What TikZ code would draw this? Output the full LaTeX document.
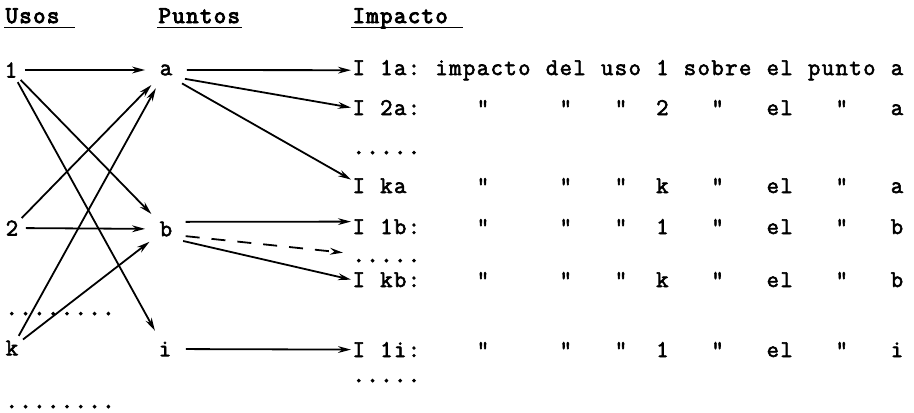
\documentclass[tikz,border=0pt]{standalone}
\usepackage{fontspec}
\newfontfamily\bodyfont{Latin Modern Mono}[BoldFont={Latin Modern Mono},BoldFeatures={FakeBold=2.5}]
\newfontfamily\headfont{Latin Modern Mono}[BoldFont={Latin Modern Mono},BoldFeatures={FakeBold=4}]
\usetikzlibrary{arrows.meta}

\newlength\pitch
\setlength\pitch{6.9pt}
\newcommand{\ch}[1]{\makebox[\pitch]{#1}}
\newcommand{\sk}[1]{\hspace*{#1\pitch}}
\def\mono#1{\monoloop#1\relax}
\def\monoloop#1{\ifx#1\relax\else\ch{#1}\expandafter\monoloop\fi}
\newcommand{\dittorow}[3]{\mono{#1}\sk{4}\ch{"}\sk{5}\ch{"}\sk{3}\ch{"}\sk{2}\ch{#2}\sk{3}\ch{"}\sk{3}\mono{el}\sk{3}\ch{"}\sk{3}\ch{#3}}

\begin{document}
\begin{tikzpicture}[x=0.5pt,y=-0.5pt,>={Stealth[length=6.5pt,width=3.4pt]},line width=0.9pt,
    font=\fontsize{12}{14}\bodyfont\bfseries,
    uso/.style={circle,inner sep=0pt,minimum size=13pt},
    punto/.style={circle,inner sep=0pt,minimum size=20pt},
    imp/.style={anchor=base west,inner sep=0pt},
    puntos/.style={imp,font=\fontsize{12}{14}\headfont\bfseries},
    head/.style={anchor=base west,inner sep=0pt,font=\fontsize{12}{14}\headfont\bfseries},
    raya/.style={dash pattern=on 7pt off 6pt}]
  \useasboundingbox (0,0) rectangle (914,412);
  % encabezados
  \node[head] (hUsos) at (4,23) {\mono{Usos~}};
  \node[head] (hPuntos) at (157,23) {\mono{Puntos}};
  \node[head] (hImpacto) at (351,23) {\mono{Impacto~}};
  \foreach \h in {hUsos,hPuntos,hImpacto}
    \draw ([yshift=-2.2pt]\h.base west) -- ([yshift=-2.2pt]\h.base east);
  % usos
  \node[uso] (u1) at (11,70) {1};
  \node[uso] (u2) at (12,228) {2};
  \node[uso] (uk) at (12,348) {k};
  \node[puntos] (du1) at (4,315) {\mono{........}};
  \node[puntos] (du2) at (4,408) {\mono{........}};
  % puntos
  \node[punto] (a) at (166,70) {a};
  \node[punto] (b) at (166,229) {b};
  \node[punto] (i) at (165,349) {i};
  % impactos
  \node[imp] (I1a) at (351,75) {\mono{I~1a:~impacto~del~uso~1~sobre~el~punto~a}};
  \node[imp] (I2a) at (351,115) {\dittorow{I~2a:}{2}{a}};
  \node[puntos] (Da) at (351,154) {\mono{.....}};
  \node[imp] (Ika) at (351,193) {\dittorow{I~ka~}{k}{a}};
  \node[imp] (I1b) at (351,234) {\dittorow{I~1b:}{1}{b}};
  \node[puntos] (Db) at (351,262) {\mono{.....}};
  \node[imp] (Ikb) at (351,287) {\dittorow{I~kb:}{k}{b}};
  \node[imp] (I1i) at (351,357) {\dittorow{I~1i:}{1}{i}};
  \node[puntos] (Di) at (351,382) {\mono{.....}};
  % usos -> puntos
  \foreach \u/\p in {u1/a,u1/b,u1/i,u2/a,u2/b,uk/a,uk/b}
    \draw[->] (\u) -- (\p);
  % puntos -> impactos
  \draw[->] (a) -- (I1a.west);
  \draw[->] (a.-25) -- (I2a.west);
  \draw[->] (a.-40) -- ([yshift=3pt]Ika.west);
  \draw[->] (b.20) -- ([yshift=2.5pt]I1b.west);
  \draw[->,raya] (b.-20) -- ([xshift=-4pt,yshift=4pt]Db.west);
  \draw[->] (b.-35) -- (Ikb.west);
  \draw[->] (i) -- (I1i.west);
\end{tikzpicture}
\end{document}
